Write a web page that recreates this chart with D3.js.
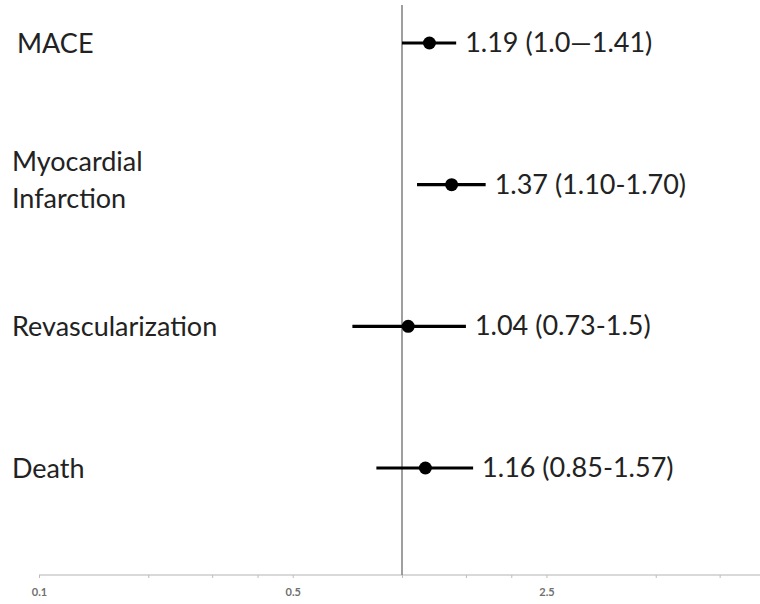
<!DOCTYPE html>
<html>
<head>
<meta charset="utf-8">
<script src="https://cdn.jsdelivr.net/npm/d3@7"></script>
<style>
  html, body { margin: 0; padding: 0; background: #fff; }
  svg { display: block; }
</style>
</head>
<body>
<svg id="chart" width="760" height="604"></svg>
<script>
// Outcomes and their hazard ratios with 95% confidence intervals
const outcomes = ["MACE", "Myocardial Infarction", "Revascularization", "Death"];
const outcomeLines = [["MACE"], ["Myocardial", "Infarction"], ["Revascularization"], ["Death"]];
const estimates = [1.19, 1.37, 1.04, 1.16];
const lowerCI = [1.0, 1.10, 0.73, 0.85];
const upperCI = [1.41, 1.70, 1.5, 1.57];
const valueLabels = ["1.19 (1.0\u20141.41)", "1.37 (1.10-1.70)", "1.04 (0.73-1.5)", "1.16 (0.85-1.57)"];

// Log axis ticks (only some carry a label)
const tickValues = [0.1, 0.2, 0.3, 0.4, 0.5, 1, 1.5, 2, 2.5, 5, 7.5];
const tickLabels = {0.1: "0.1", 0.5: "0.5", 2.5: "2.5"};

const svg = d3.select("#chart");
const fontFamily = "Lato, 'Open Sans', sans-serif";

const x = d3.scaleLog().domain([0.1, 10]).range([39, 402 + 363]);
const y = d3.scalePoint().domain(outcomes).range([43, 468]);
const axisY = 575;

// Bottom axis
const axis = d3.axisBottom(x)
  .tickValues(tickValues)
  .tickSize(3)
  .tickFormat(d => tickLabels[d] || "");

const gAxis = svg.append("g")
  .attr("transform", `translate(0,${axisY})`)
  .call(axis);
gAxis.select(".domain")
  .attr("d", `M${x(0.1)},0H760`)
  .attr("stroke", "#d9d9d9")
  .attr("stroke-width", 2);
gAxis.selectAll(".tick line").attr("stroke", "#bdbdbd").attr("stroke-width", 1);
gAxis.selectAll(".tick text")
  .attr("y", 13)
  .attr("fill", "#707070")
  .style("font-family", fontFamily)
  .style("font-size", "11px")
  .style("font-weight", "bold");

// Line of no effect at HR = 1
svg.append("line")
  .attr("x1", x(1)).attr("x2", x(1))
  .attr("y1", 5).attr("y2", axisY)
  .attr("stroke", "#7f7f7f")
  .attr("stroke-width", 1.5);

const rows = outcomes.map((o, i) => ({
  name: o, lines: outcomeLines[i], est: estimates[i],
  lo: lowerCI[i], hi: upperCI[i], label: valueLabels[i]
}));

const g = svg.append("g").selectAll("g").data(rows).join("g")
  .attr("transform", d => `translate(0,${y(d.name)})`);

// Confidence interval whiskers
g.append("line")
  .attr("x1", d => x(d.lo)).attr("x2", d => x(d.hi))
  .attr("y1", 0).attr("y2", 0)
  .attr("stroke", "#000")
  .attr("stroke-width", 3.2);

// Point estimates
g.append("circle")
  .attr("cx", d => x(d.est))
  .attr("r", 6.5)
  .attr("fill", "#000");

// Value labels beside each interval
g.append("text")
  .attr("x", d => x(d.hi) + 9)
  .attr("y", 9)
  .attr("fill", "#222")
  .style("font-family", fontFamily)
  .style("font-size", "27px")
  .text(d => d.label);

// Outcome names on the left
g.append("text")
  .attr("x", d => d.name === "MACE" ? 17 : 12)
  .attr("y", d => d.lines.length > 1 ? -14 : 10)
  .attr("fill", "#222")
  .style("font-family", fontFamily)
  .style("font-size", "27px")
  .selectAll("tspan")
  .data(d => d.lines)
  .join("tspan")
  .attr("x", function() { return d3.select(this.parentNode).attr("x"); })
  .attr("dy", (t, i) => i === 0 ? 0 : 37)
  .text(t => t);
</script>
</body>
</html>
